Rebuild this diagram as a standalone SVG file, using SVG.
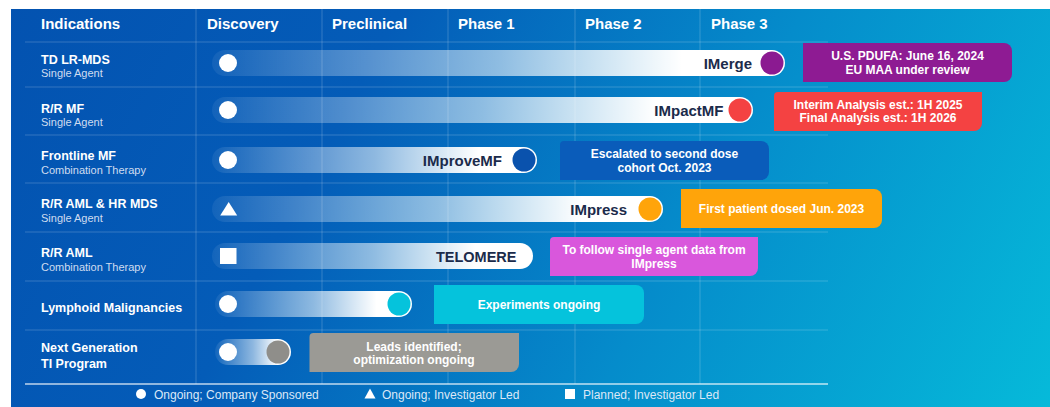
<svg xmlns="http://www.w3.org/2000/svg" width="1050" height="407" viewBox="0 0 1050 407">
  <defs>
    <linearGradient id="bg" gradientUnits="userSpaceOnUse" x1="0" y1="0" x2="1050" y2="560">
      <stop offset="0" stop-color="#0352b0"/>
      <stop offset="0.3" stop-color="#045cb8"/>
      <stop offset="0.6" stop-color="#058ccb"/>
      <stop offset="1" stop-color="#06c2dc"/>
    </linearGradient>
    <linearGradient id="bar" x1="0" y1="0" x2="1" y2="0">
      <stop offset="0" stop-color="#ffffff" stop-opacity="0.06"/>
      <stop offset="0.12" stop-color="#ffffff" stop-opacity="0.18"/>
      <stop offset="0.5" stop-color="#ffffff" stop-opacity="0.55"/>
      <stop offset="0.82" stop-color="#ffffff" stop-opacity="1"/>
      <stop offset="1" stop-color="#ffffff" stop-opacity="1"/>
    </linearGradient>
    <style>
      .hdr { font-family: "Liberation Sans", Arial, sans-serif; font-weight: bold; font-size: 15px; fill: #ffffff; }
      .ind { font-family: "Liberation Sans", Arial, sans-serif; font-weight: bold; font-size: 12.5px; fill: #ffffff; }
      .sub { font-family: "Liberation Sans", Arial, sans-serif; font-size: 11px; fill: #cfdcf0; }
      .prog { font-family: "Liberation Sans", Arial, sans-serif; font-weight: bold; font-size: 15px; fill: #1b2b4b; text-anchor: end; }
      .note { font-family: "Liberation Sans", Arial, sans-serif; font-weight: bold; font-size: 12px; fill: #ffffff; text-anchor: middle; }
      .leg { font-family: "Liberation Sans", Arial, sans-serif; font-size: 12px; fill: #dce8f7; }
      .grid line { stroke: #ffffff; stroke-opacity: 0.2; stroke-width: 1; }
      .bar { fill: url(#bar); }
      .mark { fill: #ffffff; }
    </style>
  </defs>

  <!-- panel background -->
  <rect x="0" y="0" width="1050" height="407" fill="#ffffff"/>
  <rect x="11" y="9" width="1039" height="398" fill="url(#bg)"/>

  <!-- table grid -->
  <g id="connectors" class="grid">
    <line x1="196" y1="9" x2="196" y2="384"/>
    <line x1="322" y1="9" x2="322" y2="384"/>
    <line x1="448" y1="9" x2="448" y2="384"/>
    <line x1="575" y1="9" x2="575" y2="384"/>
    <line x1="700" y1="9" x2="700" y2="384"/>
    <line x1="25" y1="42" x2="828" y2="42"/>
    <line x1="25" y1="87" x2="828" y2="87"/>
    <line x1="25" y1="135" x2="828" y2="135"/>
    <line x1="25" y1="183" x2="828" y2="183"/>
    <line x1="25" y1="232" x2="828" y2="232"/>
    <line x1="25" y1="281" x2="828" y2="281"/>
    <line x1="25" y1="330" x2="828" y2="330"/>
    <line x1="25" y1="384" x2="828" y2="384" style="stroke-opacity:0.75;stroke-width:1.5"/>
  </g>

  <!-- column headers -->
  <g id="header">
    <text class="hdr" x="41" y="28.5">Indications</text>
    <text class="hdr" x="207" y="28.5">Discovery</text>
    <text class="hdr" x="332" y="28.5">Preclinical</text>
    <text class="hdr" x="458" y="28.5">Phase 1</text>
    <text class="hdr" x="585" y="28.5">Phase 2</text>
    <text class="hdr" x="711" y="28.5">Phase 3</text>
  </g>

  <!-- TD LR-MDS -->
  <g id="row-imerge">
    <text class="ind" x="41" y="64">TD LR-MDS</text>
    <text class="sub" x="41" y="77">Single Agent</text>
    <rect class="bar" x="212" y="50" width="573" height="26" rx="13"/>
    <circle class="mark" cx="228" cy="63" r="9"/>
    <text class="prog" x="752" y="68.5">IMerge</text>
    <circle cx="772" cy="63" r="11.5" fill="#8b1a91"/>
    <path d="M803,43 H1004 A8,8 0 0 1 1012,51 V74 A8,8 0 0 1 1004,82 H803 Z" fill="#8e1b93"/>
    <text class="note" x="907.5" y="60">U.S. PDUFA: June 16, 2024</text>
    <text class="note" x="907.5" y="73.5">EU MAA under review</text>
  </g>

  <!-- R/R MF -->
  <g id="row-impactmf">
    <text class="ind" x="41" y="112.5">R/R MF</text>
    <text class="sub" x="41" y="126">Single Agent</text>
    <rect class="bar" x="212" y="97" width="541" height="26" rx="13"/>
    <circle class="mark" cx="228" cy="110" r="9"/>
    <text class="prog" x="723.5" y="115.5">IMpactMF</text>
    <circle cx="740" cy="110" r="11.5" fill="#f44242"/>
    <path d="M778,92 H982 V123 A8,8 0 0 1 974,131 H774 V96 A4,4 0 0 1 778,92 Z" fill="#f44242"/>
    <text class="note" x="878" y="108.5">Interim Analysis est.: 1H 2025</text>
    <text class="note" x="878" y="122">Final Analysis est.: 1H 2026</text>
  </g>

  <!-- Frontline MF -->
  <g id="row-improvemf">
    <text class="ind" x="41" y="159.5">Frontline MF</text>
    <text class="sub" x="41" y="174">Combination Therapy</text>
    <rect class="bar" x="212" y="147" width="325" height="26" rx="13"/>
    <circle class="mark" cx="228" cy="160" r="9"/>
    <text class="prog" x="502" y="165.5">IMproveMF</text>
    <circle cx="524" cy="160" r="11.5" fill="#0a52ad"/>
    <path d="M564,141 H761 A8,8 0 0 1 769,149 V172 A8,8 0 0 1 761,180 H560 V145 A4,4 0 0 1 564,141 Z" fill="#0a5cba"/>
    <text class="note" x="664.5" y="158">Escalated to second dose</text>
    <text class="note" x="664.5" y="171.5">cohort Oct. 2023</text>
  </g>

  <!-- R/R AML & HR MDS -->
  <g id="row-impress">
    <text class="ind" x="41" y="208">R/R AML &amp; HR MDS</text>
    <text class="sub" x="41" y="222">Single Agent</text>
    <rect class="bar" x="212" y="196" width="451" height="26" rx="13"/>
    <path class="mark" d="M228.7,202 L237.2,215.5 H220.2 Z"/>
    <text class="prog" x="627" y="214.5">IMpress</text>
    <circle cx="650" cy="209" r="11.5" fill="#ffa40a"/>
    <path d="M681,189 H874 A8,8 0 0 1 882,197 V220 A8,8 0 0 1 874,228 H681 Z" fill="#ffa40a"/>
    <text class="note" x="781.5" y="212.8">First patient dosed Jun. 2023</text>
  </g>

  <!-- R/R AML -->
  <g id="row-telomere">
    <text class="ind" x="41" y="257">R/R AML</text>
    <text class="sub" x="41" y="270.5">Combination Therapy</text>
    <rect class="bar" x="212" y="243" width="321" height="26" rx="13"/>
    <rect class="mark" x="220" y="248" width="16.5" height="16"/>
    <text class="prog" x="516.5" y="261.5" style="font-size:14.5px">TELOMERE</text>
    <path d="M554,237 H758 V268 A8,8 0 0 1 750,276 H550 V241 A4,4 0 0 1 554,237 Z" fill="#d957dc"/>
    <text class="note" x="654" y="254">To follow single agent data from</text>
    <text class="note" x="654" y="267.5">IMpress</text>
  </g>

  <!-- Lymphoid Malignancies -->
  <g id="row-lymphoid">
    <text class="ind" x="41" y="312">Lymphoid Malignancies</text>
    <rect class="bar" x="215" y="291" width="197" height="26" rx="13"/>
    <circle class="mark" cx="228" cy="304" r="9"/>
    <circle cx="399" cy="304" r="11.5" fill="#05c3dc"/>
    <path d="M434,285 H636 A8,8 0 0 1 644,293 V316 A8,8 0 0 1 636,324 H434 Z" fill="#05c3dc"/>
    <text class="note" x="539" y="309">Experiments ongoing</text>
  </g>

  <!-- Next Generation TI Program -->
  <g id="row-next-gen">
    <text class="ind" x="41" y="352">Next Generation</text>
    <text class="ind" x="41" y="368">TI Program</text>
    <rect class="bar" x="215" y="339" width="76" height="26" rx="13"/>
    <circle class="mark" cx="228" cy="352" r="9"/>
    <circle cx="278" cy="352" r="11.5" fill="#8f8e8a"/>
    <path d="M313.5,333 H519 V364 A8,8 0 0 1 511,372 H309.5 V337 A4,4 0 0 1 313.5,333 Z" fill="#9b9a95"/>
    <text class="note" x="414" y="350.5">Leads identified;</text>
    <text class="note" x="414" y="364">optimization ongoing</text>
  </g>

  <!-- legend -->
  <g id="legend">
    <circle class="mark" cx="141" cy="394" r="5"/>
    <text class="leg" x="154" y="398.5">Ongoing; Company Sponsored</text>
    <path class="mark" d="M370,388.5 L375.5,398.5 H364.5 Z"/>
    <text class="leg" x="382" y="398.5">Ongoing; Investigator Led</text>
    <rect class="mark" x="565" y="389" width="10" height="10"/>
    <text class="leg" x="583" y="398.5">Planned; Investigator Led</text>
  </g>
</svg>
